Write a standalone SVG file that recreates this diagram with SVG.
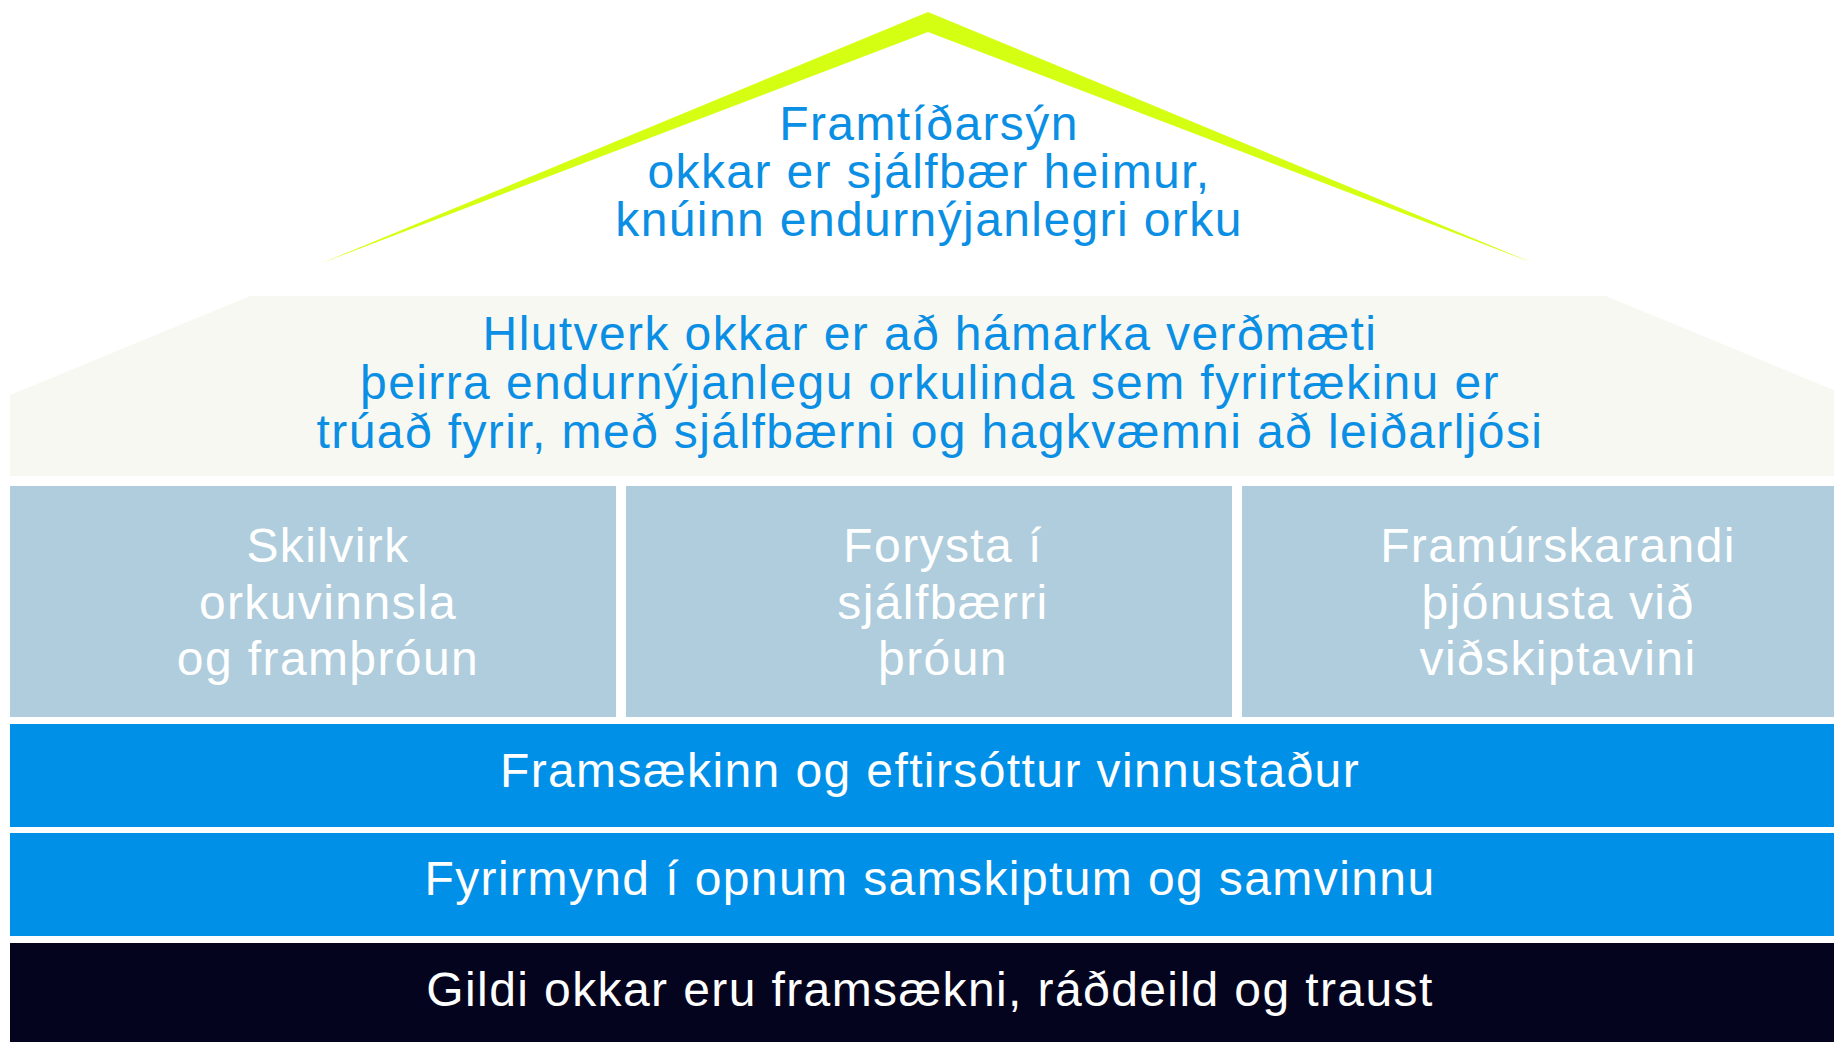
<svg xmlns="http://www.w3.org/2000/svg" width="1834" height="1042" viewBox="0 0 1834 1042">
  <style>
    text { font-family: "Liberation Sans", Arial, sans-serif; font-size: 48px; letter-spacing: 1.4px; text-anchor: middle; }
    .blue-text { fill: #0a8fe4; }
    .white-text { fill: #ffffff; }
    .pillar { fill: #afcddc; }
    .band { fill: #0090e8; }
  </style>
  <rect x="0" y="0" width="1834" height="1042" fill="#ffffff"/>

  <g id="roof">
    <polygon points="322,263 928,12 1533,263 928,32" fill="#d4ff12"/>
  </g>

  <g id="vision">
    <text class="blue-text" x="929" y="140">Framtíðarsýn</text>
    <text class="blue-text" x="929" y="188">okkar er sjálfbær heimur,</text>
    <text class="blue-text" x="929" y="236">knúinn endurnýjanlegri orku</text>
  </g>

  <g id="mission">
    <polygon points="10,395 250,296 1606,296 1846,395 1846,476 10,476" fill="#f8f8f3"/>
    <text class="blue-text" x="930" y="350">Hlutverk okkar er að hámarka verðmæti</text>
    <text class="blue-text" x="930" y="399">þeirra endurnýjanlegu orkulinda sem fyrirtækinu er</text>
    <text class="blue-text" x="930" y="448">trúað fyrir, með sjálfbærni og hagkvæmni að leiðarljósi</text>
  </g>

  <g id="pillar-1">
    <rect class="pillar" x="10" y="486" width="606" height="231"/>
    <text class="white-text" x="328" y="562">Skilvirk</text>
    <text class="white-text" x="328" y="619">orkuvinnsla</text>
    <text class="white-text" x="328" y="675">og framþróun</text>
  </g>

  <g id="pillar-2">
    <rect class="pillar" x="626" y="486" width="606" height="231"/>
    <text class="white-text" x="943" y="562">Forysta í</text>
    <text class="white-text" x="943" y="619">sjálfbærri</text>
    <text class="white-text" x="943" y="675">þróun</text>
  </g>

  <g id="pillar-3">
    <rect class="pillar" x="1242" y="486" width="604" height="231"/>
    <text class="white-text" x="1558" y="562">Framúrskarandi</text>
    <text class="white-text" x="1558" y="619">þjónusta við</text>
    <text class="white-text" x="1558" y="675">viðskiptavini</text>
  </g>

  <g id="band-workplace">
    <rect class="band" x="10" y="724" width="1836" height="103"/>
    <text class="white-text" x="930" y="787">Framsækinn og eftirsóttur vinnustaður</text>
  </g>

  <g id="band-communication">
    <rect class="band" x="10" y="833" width="1836" height="103"/>
    <text class="white-text" x="930" y="895">Fyrirmynd í opnum samskiptum og samvinnu</text>
  </g>

  <g id="band-values">
    <rect x="10" y="943" width="1836" height="99" fill="#05041f"/>
    <text class="white-text" x="930" y="1006">Gildi okkar eru framsækni, ráðdeild og traust</text>
  </g>

  <g id="connectors"></g>
</svg>
